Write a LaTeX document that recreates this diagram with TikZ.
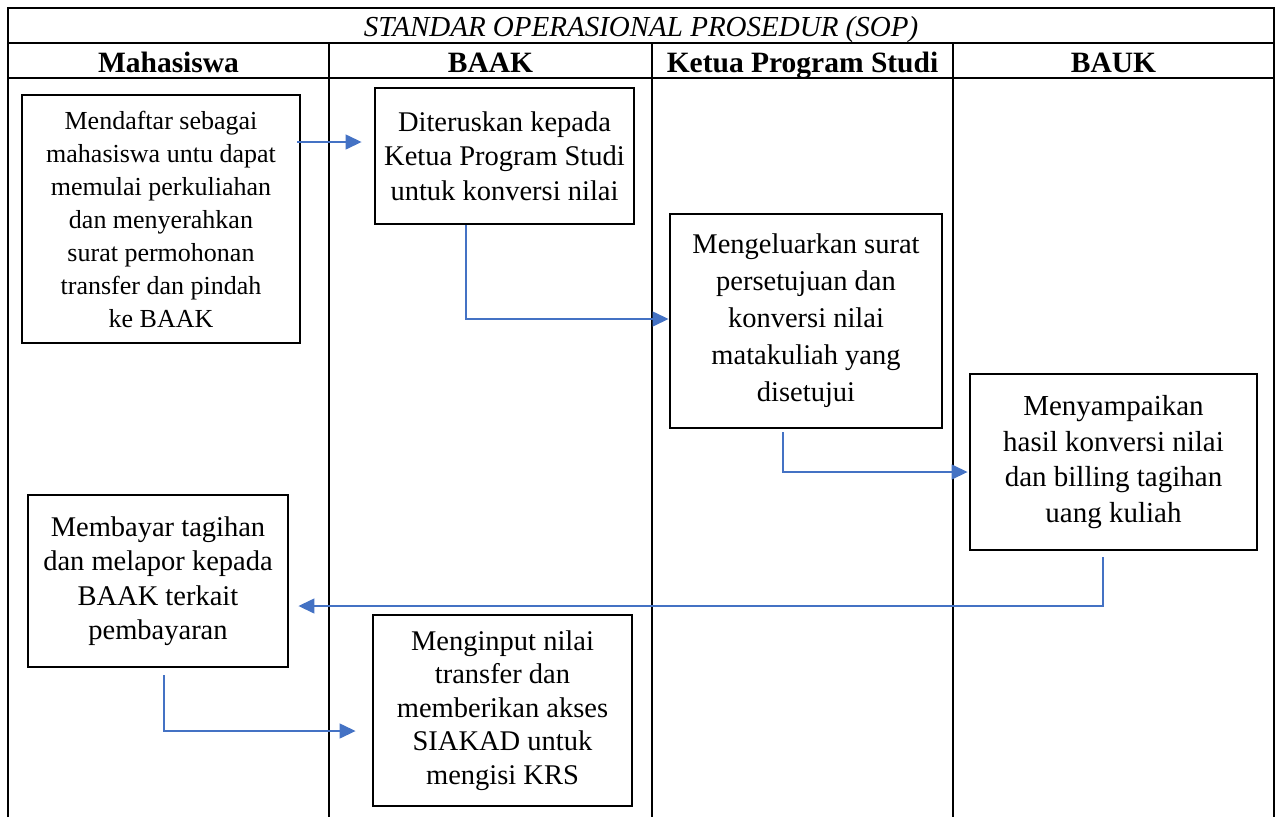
\documentclass[tikz,border=0pt]{standalone}
\usepackage{fontspec}
\setmainfont{Liberation Serif}
\usetikzlibrary{arrows.meta,calc}
\definecolor{flowblue}{RGB}{68,114,196}
\tikzset{
  tableline/.style={line width=2.2pt,black},
  stepbox/.style={draw,line width=2.9pt,rectangle,inner sep=0pt,align=center,
    font=\fontsize{28.5}{34.5}\selectfont},
  headtext/.style={anchor=base,font=\fontsize{29.5}{34}\selectfont\bfseries},
  flow/.style={draw=flowblue,line width=1.4pt,-{Triangle[length=16pt,width=15pt]}},
}
\begin{document}
\begin{tikzpicture}[x=1pt,y=-1pt]
\useasboundingbox (0,0) rectangle (1277,817);
% table
\draw[tableline] (8,817) -- (8,8) -- (1274,8) -- (1274,817);
\draw[tableline] (8,43) -- (1274,43);
\draw[tableline] (8,78) -- (1274,78);
\draw[tableline] (329,43) -- (329,817);
\draw[tableline] (652,43) -- (652,817);
\draw[tableline] (953,43) -- (953,817);
\node[anchor=base,font=\fontsize{29}{34}\selectfont\itshape] (title) at (641,36) {STANDAR OPERASIONAL PROSEDUR (SOP)};
\node[headtext] (h1) at (168.5,72) {Mahasiswa};
\node[headtext] (h2) at (490.5,72) {BAAK};
\node[headtext] (h3) at (802.5,72) {Ketua Program Studi};
\node[headtext] (h4) at (1113.5,72) {BAUK};
% boxes
\node[stepbox,minimum width=278pt,minimum height=248pt,font=\fontsize{26}{33}\selectfont] (b1) at (161,219)
  {Mendaftar sebagai\\mahasiswa untu dapat\\memulai perkuliahan\\dan menyerahkan\\surat permohonan\\transfer dan pindah\\ke BAAK};
\node[stepbox,minimum width=259pt,minimum height=136pt] (b2) at (504.5,156)
  {Diteruskan kepada\\Ketua Program Studi\\untuk konversi nilai};
\node[stepbox,minimum width=272pt,minimum height=214pt,font=\fontsize{28.5}{37}\selectfont] (b3) at (806,321)
  {Mengeluarkan surat\\persetujuan dan\\konversi nilai\\matakuliah yang\\disetujui};
\node[stepbox,minimum width=287pt,minimum height=176pt,font=\fontsize{29}{35.5}\selectfont] (b4) at (1113.5,462)
  {Menyampaikan\\hasil konversi nilai\\dan billing tagihan\\uang kuliah};
\node[stepbox,minimum width=260pt,minimum height=172pt] (b5) at (158,581)
  {Membayar tagihan\\dan melapor kepada\\BAAK terkait\\pembayaran};
\node[stepbox,minimum width=259pt,minimum height=191pt,font=\fontsize{28.5}{33.5}\selectfont] (b6) at (502.5,710.5)
  {Menginput nilai\\transfer dan\\memberikan akses\\SIAKAD untuk\\mengisi KRS};
% connectors
\coordinate (s1) at (297,142);
\coordinate (s2) at (466,225);
\coordinate (s3) at (783,432);
\coordinate (s4) at (1103,557);
\coordinate (s5) at (164,675);
\draw[flow,shorten >=12pt] (s1) -- (b2.west |- s1);
\draw[flow] (s2) |- (b3.west |- 0,319);
\draw[flow] (s3) |- ($(b4.west |- 0,472)+(-1,0)$);
\draw[flow,shorten >=9pt] (s4) |- (b5.east |- 0,606);
\draw[flow,shorten >=16pt] (s5) |- (b6.west |- 0,731);
\end{tikzpicture}
\end{document}
